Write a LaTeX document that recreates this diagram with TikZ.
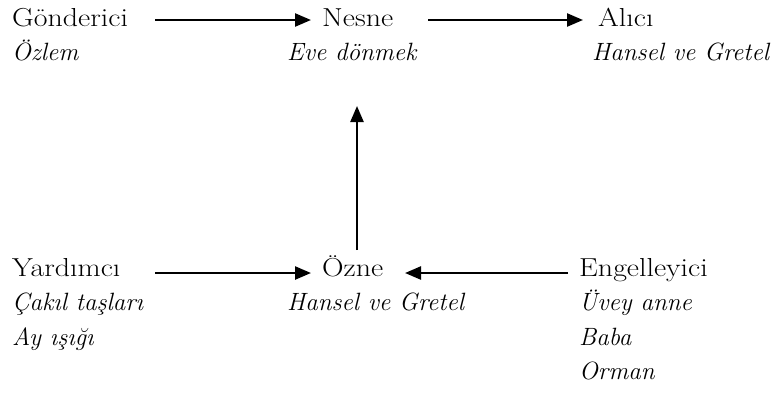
\documentclass[tikz,border=0pt]{standalone}
\usepackage{fontspec}
\newfontfamily\rolefont[FakeStretch=1.15]{Latin Modern Roman}
\usetikzlibrary{arrows.meta}
\tikzset{
  role/.style={anchor=base west, inner sep=0pt, font=\rolefont\fontsize{26}{30}\selectfont},
  actor/.style={anchor=base west, inner sep=0pt, font=\fontsize{25}{30}\selectfont\itshape},
  arr/.style={line width=2.4pt, -{Triangle[length=16pt,width=13pt]}}
}
\begin{document}
\begin{tikzpicture}[x=1pt,y=-1pt]
\useasboundingbox (0,0) rectangle (773,392);
% upper row: sender, object, receiver
\node[role]  (gond)  at (12,26)  {Gönderici};
\node[actor] (ozlem) at (12,60)  {Özlem};
\node[role]  (nesne) at (322,26) {Nesne};
\node[actor] (eve)   at (287,60) {Eve dönmek};
\node[role]  (alici) at (598,26) {Alıcı};
\node[actor] (hg1)   at (592,60) {Hansel ve Gretel};
% lower row: helper, subject, opponent
\node[role]  (yard)  at (12,276)  {Yardımcı};
\node[actor] (cakil) at (12,310.5){Çakıl taşları};
\node[actor] (ay)    at (12,345)  {Ay ışığı};
\node[role]  (ozne)  at (322,276) {Özne};
\node[actor] (hg2)   at (287,310.5){Hansel ve Gretel};
\node[role]  (eng)   at (579,276) {Engelleyici};
\node[actor] (uvey)  at (579,310.5){Üvey anne};
\node[actor] (baba)  at (579,345) {Baba};
\node[actor] (orman) at (579,379) {Orman};
% arrow end points
\coordinate (g-out) at (155,20);
\coordinate (n-in)  at (311,20);
\coordinate (n-out) at (428,20);
\coordinate (a-in)  at (583,20);
\coordinate (y-out) at (155,273);
\coordinate (o-in)  at (311,273);
\coordinate (e-out) at (568,273);
\coordinate (o-rin) at (405,273);
\coordinate (o-up)  at (357,250);
\coordinate (n-low) at (357,106);
% connectors
\draw[arr] (g-out) -- (n-in);
\draw[arr] (n-out) -- (a-in);
\draw[arr] (y-out) -- (o-in);
\draw[arr] (e-out) -- (o-rin);
\draw[arr] (o-up) -- (n-low);
\end{tikzpicture}
\end{document}
